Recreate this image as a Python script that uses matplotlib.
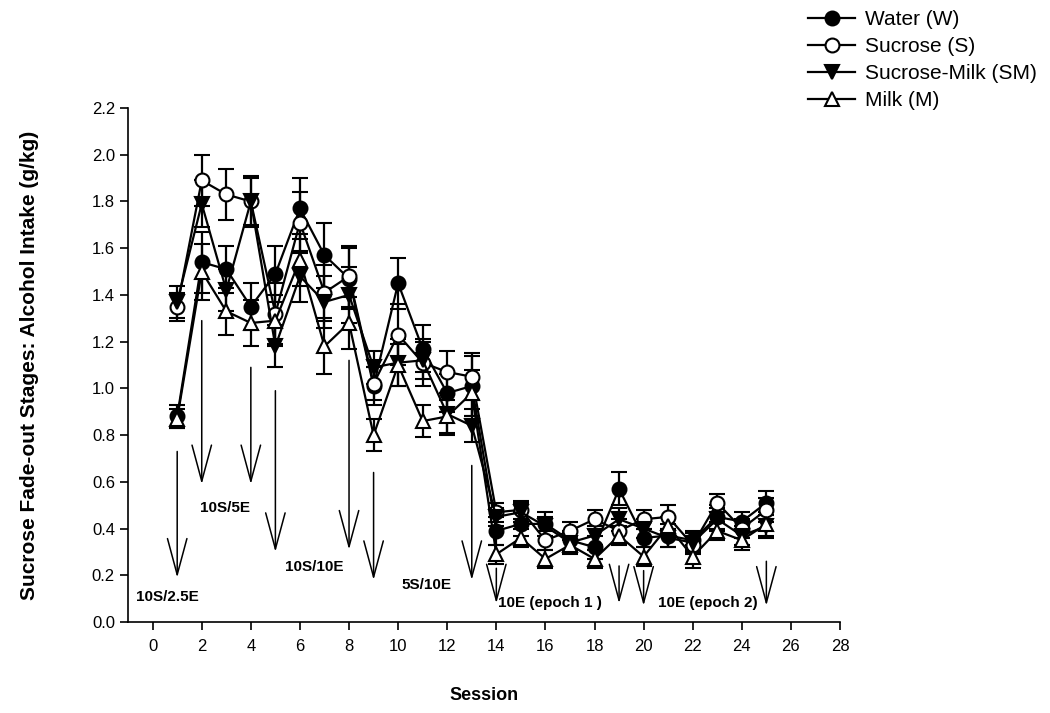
import matplotlib
matplotlib.use("Agg")
import matplotlib.pyplot as plt
from matplotlib.lines import Line2D
import numpy as np

plt.rcParams["font.family"] = ["Liberation Sans", "DejaVu Sans"]

sessions = np.arange(1, 26)

water = [0.88, 1.54, 1.51, 1.35, 1.49, 1.77, 1.57, 1.47, 1.01, 1.45, 1.17, 0.98, 1.01,
         0.39, 0.42, 0.42, 0.35, 0.32, 0.57, 0.36, 0.37, 0.35, 0.45, 0.43, 0.51]
water_err = [0.05, 0.13, 0.10, 0.10, 0.12, 0.13, 0.14, 0.13, 0.08, 0.11, 0.10, 0.08, 0.13,
             0.06, 0.05, 0.05, 0.04, 0.05, 0.07, 0.04, 0.05, 0.04, 0.05, 0.04, 0.05]
sucrose = [1.35, 1.89, 1.83, 1.80, 1.32, 1.71, 1.41, 1.48, 1.02, 1.23, 1.11, 1.07, 1.05,
           0.47, 0.48, 0.35, 0.39, 0.44, 0.39, 0.44, 0.45, 0.33, 0.51, 0.40, 0.48]
sucrose_err = [0.06, 0.11, 0.11, 0.11, 0.13, 0.13, 0.12, 0.13, 0.07, 0.13, 0.10, 0.09, 0.10,
               0.04, 0.04, 0.04, 0.04, 0.04, 0.05, 0.04, 0.05, 0.04, 0.04, 0.04, 0.05]
suc_milk = [1.37, 1.79, 1.42, 1.80, 1.18, 1.48, 1.37, 1.40, 1.09, 1.11, 1.12, 0.89, 0.84,
            0.45, 0.47, 0.41, 0.34, 0.37, 0.44, 0.40, 0.36, 0.34, 0.44, 0.37, 0.41]
suc_milk_err = [0.07, 0.10, 0.09, 0.10, 0.09, 0.11, 0.11, 0.12, 0.07, 0.10, 0.08, 0.09, 0.07,
                0.04, 0.04, 0.04, 0.04, 0.04, 0.05, 0.04, 0.04, 0.04, 0.05, 0.04, 0.05]
milk = [0.87, 1.50, 1.33, 1.28, 1.29, 1.55, 1.18, 1.28, 0.80, 1.10, 0.86, 0.88, 0.98,
        0.29, 0.36, 0.27, 0.33, 0.27, 0.37, 0.28, 0.41, 0.28, 0.39, 0.35, 0.42]
milk_err = [0.04, 0.12, 0.10, 0.10, 0.11, 0.11, 0.12, 0.11, 0.07, 0.09, 0.07, 0.07, 0.10,
            0.04, 0.04, 0.04, 0.04, 0.04, 0.04, 0.04, 0.04, 0.05, 0.04, 0.04, 0.05]

# stage-change arrows: (session, top, tip)
arrow_session = [1, 2, 4, 5, 8, 9, 13, 14, 19, 20, 25]
arrow_top = [0.73, 1.29, 1.09, 0.99, 1.12, 0.64, 0.67, 0.23, 0.24, 0.22, 0.26]
arrow_tip = [0.19, 0.59, 0.59, 0.30, 0.31, 0.18, 0.18, 0.08, 0.08, 0.07, 0.07]

stage_labels = ["10S/2.5E", "10S/5E", "10S/10E", "5S/10E", "10E (epoch 1 )", "10E (epoch 2)"]
stage_x = [0.61, 2.94, 6.57, 11.14, 16.2, 22.6]
stage_y = [0.107, 0.49, 0.235, 0.158, 0.08, 0.08]

fig = plt.figure(figsize=(10.5, 7.13), dpi=100)
ax = fig.add_axes([0.122, 0.1276, 0.678, 0.7209])

series = [
    ("Water (W)", water, water_err, "o", "black"),
    ("Sucrose (S)", sucrose, sucrose_err, "o", "white"),
    ("Sucrose-Milk (SM)", suc_milk, suc_milk_err, "v", "black"),
    ("Milk (M)", milk, milk_err, "^", "white"),
]
handles = []
for label, vals, err, marker, face in series:
    ax.errorbar(sessions, vals, yerr=err, color="black", lw=1.6, marker=marker,
                markersize=10, markerfacecolor=face, markeredgecolor="black",
                markeredgewidth=1.5, capsize=6, capthick=1.6, elinewidth=1.6)
    handles.append(Line2D([], [], color="black", lw=1.6, marker=marker, markersize=10,
                          markerfacecolor=face, markeredgecolor="black",
                          markeredgewidth=1.5, label=label))

for s, top, tip in zip(arrow_session, arrow_top, arrow_tip):
    ax.annotate("", xy=(s, tip), xytext=(s, top),
                arrowprops=dict(arrowstyle="->,head_length=1.3,head_width=0.35",
                                lw=1.1, color="black", shrinkA=0, shrinkB=0,
                                mutation_scale=20))

for txt, x, y in zip(stage_labels, stage_x, stage_y):
    ax.text(x, y, txt, ha="center", va="center", fontsize=11, fontweight="bold")

ax.set_xlim(-1, 28)
ax.set_ylim(0, 2.2)
ax.set_xticks(np.arange(0, 29, 2))
ax.set_yticks(np.arange(0, 2.21, 0.2))
ax.set_yticklabels([f"{v:.1f}" for v in np.arange(0, 2.21, 0.2)])
ax.tick_params(labelsize=12, width=1.2, length=6, direction="out")
ax.tick_params(axis="x", pad=6)
for side in ("top", "right"):
    ax.spines[side].set_visible(False)
for side in ("left", "bottom"):
    ax.spines[side].set_linewidth(1.2)

ax.set_xlabel("Session", fontsize=13, fontweight="bold", labelpad=24)
ax.set_ylabel("Sucrose Fade-out Stages: Alcohol Intake (g/kg)", fontsize=15,
              fontweight="bold", labelpad=38)

fig.legend(handles=handles, loc="upper left", bbox_to_anchor=(0.752, 1.012),
           frameon=False, fontsize=15, handlelength=2.25, labelspacing=0.38,
           handletextpad=0.45)

fig.savefig("out.png", dpi=100)
